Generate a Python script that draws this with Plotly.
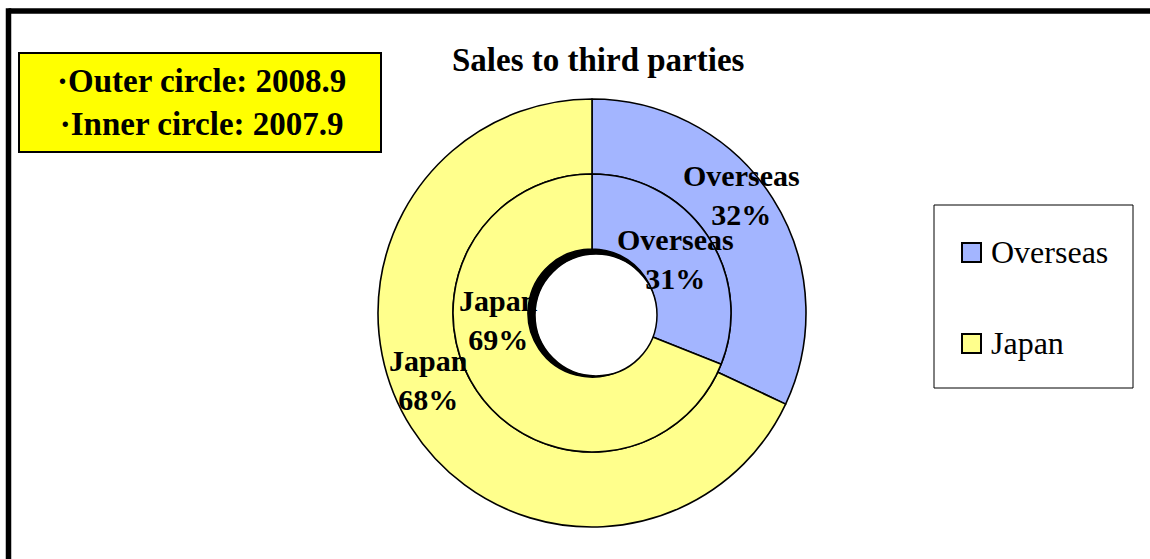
import plotly.graph_objects as go

W, H = 1150, 559

# ---- data ----
categories = ["Overseas", "Japan"]
outer_values = [32, 68]   # outer circle: 2008.9
inner_values = [31, 69]   # inner circle: 2007.9
title_text = "Sales to third parties"
note_lines = ["·Outer circle: 2008.9", "·Inner circle: 2007.9"]

# ---- style ----
colors = ["#a3b5ff", "#ffff8c"]
SERIF = "Liberation Serif, Times New Roman, serif"


def px(x):
    return x / W


def py(y):
    return 1 - y / H


CX, CY = 592, 313
R_OUT, R_MID, R_HOLE = 214, 139, 64

fig = go.Figure()

fig.add_trace(go.Pie(
    labels=categories, values=outer_values, sort=False, direction="clockwise",
    hole=R_MID / R_OUT,
    domain=dict(x=[px(CX - R_OUT), px(CX + R_OUT)], y=[py(CY + R_OUT), py(CY - R_OUT)]),
    marker=dict(colors=colors, line=dict(color="black", width=1.6)),
    textinfo="none", hoverinfo="label+value+percent", showlegend=False, name="2008.9",
))
fig.add_trace(go.Pie(
    labels=categories, values=inner_values, sort=False, direction="clockwise",
    hole=R_HOLE / R_MID,
    domain=dict(x=[px(CX - R_MID), px(CX + R_MID)], y=[py(CY + R_MID), py(CY - R_MID)]),
    marker=dict(colors=colors, line=dict(color="black", width=1.6)),
    textinfo="none", hoverinfo="label+value+percent", showlegend=False, name="2007.9",
))

annotations = []
# slice labels (layout positions in pixels)
outer_label_pos = [(741, 195), (428, 380)]
inner_label_pos = [(675, 259), (498, 320)]
for vals, positions in ((outer_values, outer_label_pos), (inner_values, inner_label_pos)):
    total = sum(vals)
    for cat, v, (lx, ly) in zip(categories, vals, positions):
        annotations.append(dict(
            x=px(lx), y=py(ly), xref="paper", yref="paper", xanchor="center", yanchor="middle",
            text=f"<b>{cat}<br>{round(100 * v / total)}%</b>", showarrow=False,
            font=dict(family=SERIF, size=30, color="black"),
        ))

# title
annotations.append(dict(
    x=px(599), y=py(60), xref="paper", yref="paper", xanchor="center", yanchor="middle",
    text=f"<b>{title_text}</b>", showarrow=False, font=dict(family=SERIF, size=33, color="black"),
))

# note box text
annotations.append(dict(
    x=px(201), y=py(103), xref="paper", yref="paper", xanchor="center", yanchor="middle",
    text="<b>" + "<br>".join(note_lines) + "</b>", showarrow=False, align="center",
    font=dict(family=SERIF, size=33, color="black"),
))

# custom legend texts
legend_rows = [252, 343]
for cat, ly in zip(categories, legend_rows):
    annotations.append(dict(
        x=px(989), y=py(ly), xref="paper", yref="paper", xanchor="left", yanchor="middle",
        text=cat, showarrow=False, font=dict(family=SERIF, size=32, color="black"),
    ))

shapes = []
# outer frame
shapes.append(dict(type="line", xref="paper", yref="paper", x0=px(8.5), x1=px(1160), y0=py(11), y1=py(11),
                   line=dict(color="black", width=5.5)))
shapes.append(dict(type="line", xref="paper", yref="paper", x0=px(8.5), x1=px(8.5), y0=py(8.3), y1=py(570),
                   line=dict(color="black", width=5.5)))
# note box
shapes.append(dict(type="rect", xref="paper", yref="paper", x0=px(19), x1=px(381), y0=py(152), y1=py(53),
                   fillcolor="#ffff00", line=dict(color="black", width=2), layer="below"))
# legend box
shapes.append(dict(type="rect", xref="paper", yref="paper", x0=px(934), x1=px(1133), y0=py(388), y1=py(205),
                   fillcolor="white", line=dict(color="black", width=1), layer="below"))
for c, ly in zip(colors, legend_rows):
    shapes.append(dict(type="rect", xref="paper", yref="paper", x0=px(962), x1=px(981), y0=py(ly + 10),
                       y1=py(ly - 9), fillcolor=c, line=dict(color="black", width=2)))
# hole rim artifact (thick crescent at upper-left of the hole)
shapes.append(dict(type="circle", xref="paper", yref="paper", x0=px(CX - R_HOLE), x1=px(CX + R_HOLE),
                   y0=py(CY + R_HOLE), y1=py(CY - R_HOLE), fillcolor="black", line=dict(width=0), layer="above"))
shapes.append(dict(type="circle", xref="paper", yref="paper", x0=px(596 - 61), x1=px(596 + 61),
                   y0=py(315 + 61), y1=py(315 - 61), fillcolor="white", line=dict(color="black", width=1.5),
                   layer="above"))

fig.update_layout(
    width=W, height=H, margin=dict(l=0, r=0, t=0, b=0),
    paper_bgcolor="white", plot_bgcolor="white",
    annotations=annotations, shapes=shapes, showlegend=False,
)

fig.write_html(
    "out.html",
    config={"displayModeBar": False},
    post_script="document.body.style.margin='0';document.body.style.overflow='hidden';",
)
